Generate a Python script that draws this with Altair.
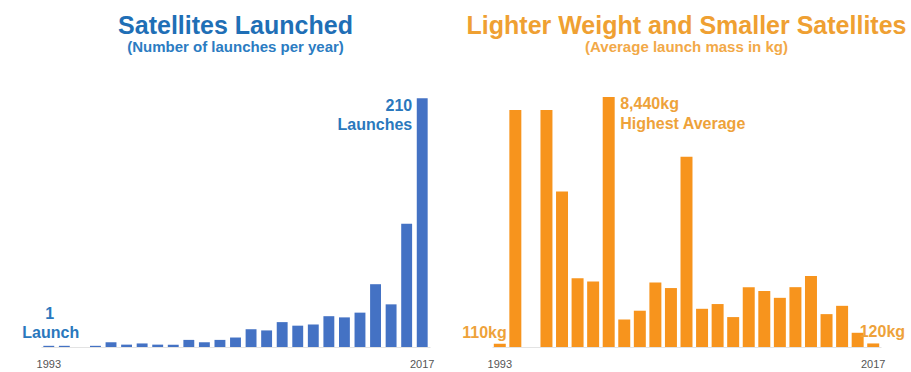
import altair as alt
import pandas as pd

# ---- data ----
years = list(range(1993, 2018))
launches = [1, 1, 0, 1, 4, 2, 3, 2, 2, 6, 4, 6, 8, 15, 14, 21, 18, 19, 26, 25, 29, 53, 36, 104, 210]
mass_kg = [110, 8000, 0, 8000, 5250, 2320, 2210, 8440, 930, 1225, 2180, 1990, 6420,
           1290, 1450, 1010, 2020, 1890, 1660, 2020, 2400, 1110, 1390, 480, 120]
tick_years = [1993, 2017]

left_title = "Satellites Launched"
left_subtitle = "(Number of launches per year)"
right_title = "Lighter Weight and Smaller Satellites"
right_subtitle = "(Average launch mass in kg)"

FONT = "Liberation Sans"
W, H = 389, 250

BLUE_BAR = "#4472C4"
BLUE_TITLE = "#1F6FB6"
BLUE_SUB = "#2B7CC2"
BLUE_NOTE = "#2A78BD"
ORANGE_BAR = "#F7941D"
ORANGE_TITLE = "#EFA032"
ORANGE_SUB = "#F2A948"
ORANGE_NOTE = "#EEA23A"


def panel(values, ymax, bar_color, pad_inner, title, subtitle, tcol, scol, notes, note_color):
    df = pd.DataFrame({"year": years, "value": values})
    x = alt.X("year:O",
              scale=alt.Scale(paddingInner=pad_inner, paddingOuter=pad_inner / 2),
              axis=alt.Axis(values=tick_years, labelAngle=0, ticks=False, title=None,
                            domainColor="#E3E3E3", domainWidth=1,
                            labelColor="#555555", labelFont=FONT, labelFontSize=11,
                            labelPadding=11))
    y = alt.Y("value:Q", scale=alt.Scale(domain=[0, ymax]), axis=None)
    base = alt.Chart(df)
    bars = base.mark_bar(color=bar_color).encode(x=x, y=y)
    layers = [bars]
    for (yr, val, txt, align, dx, dy) in notes:
        nd = pd.DataFrame({"year": [yr], "value": [val], "t": [txt]})
        layers.append(
            alt.Chart(nd).mark_text(font=FONT, fontWeight="bold", fontSize=16, color=note_color,
                                    align=align, baseline="alphabetic", dx=dx, dy=dy)
            .encode(x=x, y=y, text="t:N"))
    td = pd.DataFrame({"t": [title]})
    sd = pd.DataFrame({"t": [subtitle]})
    layers.append(alt.Chart(td).mark_text(font=FONT, fontWeight="bold", fontSize=25, color=tcol,
                                          align="center", baseline="alphabetic")
                  .encode(text="t:N", x=alt.value(W / 2), y=alt.value(-63.4)))
    layers.append(alt.Chart(sd).mark_text(font=FONT, fontWeight="bold", fontSize=15, color=scol,
                                          align="center", baseline="alphabetic")
                  .encode(text="t:N", x=alt.value(W / 2), y=alt.value(-44.7)))
    return alt.layer(*layers).properties(width=W, height=H)


left_notes = [
    (1993, 1, "1", "center", 1, -27),
    (1993, 1, "Launch", "center", 2, -7.5),
    (2017, 210, "210", "right", -10, 12.5),
    (2017, 210, "Launches", "right", -10, 32),
]
right_notes = [
    (2000, 8440, "8,440kg", "left", 11.5, 12.3),
    (2000, 8440, "Highest Average", "left", 11.5, 32),
    (1993, 110, "110kg", "right", 7, -5.4),
    (2017, 120, "120kg", "left", -13.5, -6),
]

left = panel(launches, 211, BLUE_BAR, 0.3, left_title, left_subtitle,
             BLUE_TITLE, BLUE_SUB, left_notes, BLUE_NOTE)
right = panel(mass_kg, 8440, ORANGE_BAR, 0.23, right_title, right_subtitle,
              ORANGE_TITLE, ORANGE_SUB, right_notes, ORANGE_NOTE)

chart = (alt.hconcat(left, right, spacing=62, bounds="flush")
         .properties(padding={"left": 22, "top": 13, "right": 0, "bottom": 0},
                     background="white")
         .configure_view(stroke=None))

chart.save("out.html", embed_options={"renderer": "svg", "actions": False})
